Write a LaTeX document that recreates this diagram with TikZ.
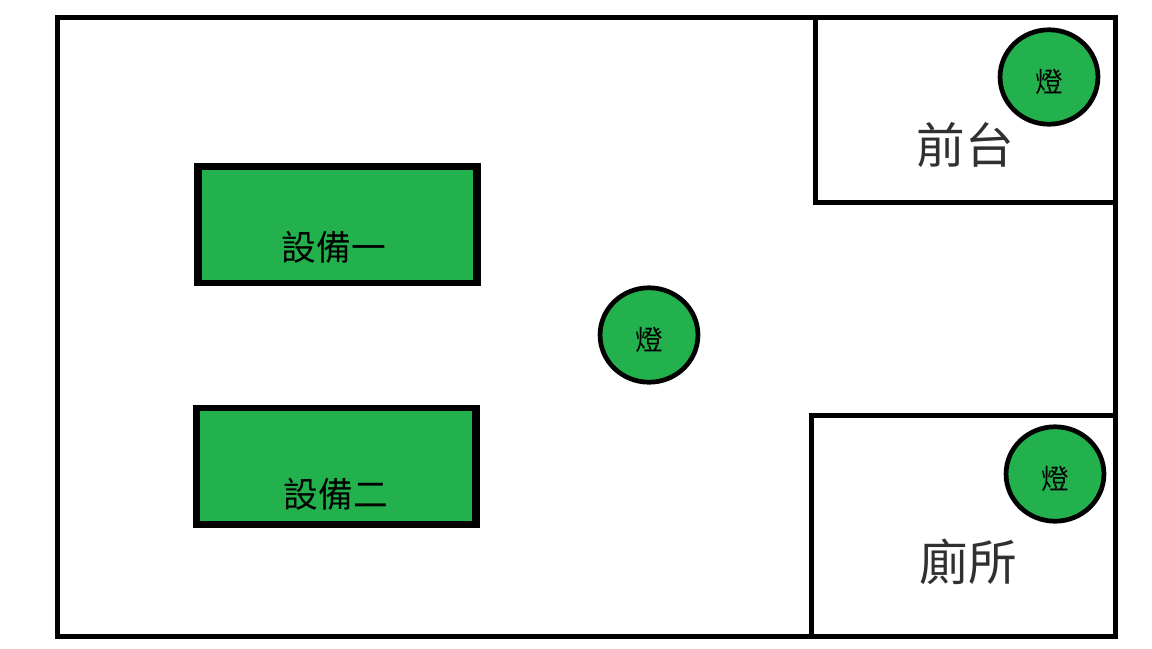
\documentclass[tikz,border=0pt]{standalone}
\usepackage{fontspec}
\setmainfont{Noto Sans CJK TC}
\usepackage{xcolor}
\usetikzlibrary{positioning,shapes.geometric}
\definecolor{pgreen}{HTML}{23B14D}
\definecolor{ptext}{HTML}{303030}
\tikzset{
  room/.style={draw=black,line width=3.6pt},
  lamp/.style={ellipse,draw=black,line width=3.4pt,fill=pgreen,minimum width=70.5pt,minimum height=68pt,inner sep=0pt,
    text height=24.5pt,text depth=2.4pt,font=\fontsize{20}{22}\selectfont},
  roomlabel/.style={text=ptext,font=\fontsize{35}{38}\selectfont,inner sep=0pt},
  machinelabel/.style={text=black,font=\fontsize{25}{28}\selectfont,inner sep=0pt}
}
\begin{document}
\begin{tikzpicture}[x=0.72pt,y=-0.72pt]
  \useasboundingbox (0,0) rectangle (1152,648);
  \fill[white] (0,0) rectangle (1152,648);

  % outer wall
  \draw[room] (57,17) rectangle (1115,636);

  % rooms
  \draw[room] (815.5,17) rectangle (1115,202.5);
  \draw[room] (811,415) rectangle (1115,636);
  \node[roomlabel] (desk) at (965,145) {前台};
  \node[roomlabel] (toilet) at (968,562) {廁所};

  % machines
  \fill[black] (193.5,163) rectangle (481,286);
  \fill[pgreen] (202,169.5) rectangle (473,280);
  \fill[black] (193,405) rectangle (480,528);
  \fill[pgreen] (200,411) rectangle (472,521);
  \node[machinelabel] (m1) at (334,247) {設備一};
  \node[machinelabel] (m2) at (336,494) {設備二};

  % lamps
  \node[lamp] (lamp1) at (649,335) {燈};
  \node[lamp] (lamp2) at (1049,77) {燈};
  \node[lamp] (lamp3) at (1055,474) {燈};
\end{tikzpicture}
\end{document}
